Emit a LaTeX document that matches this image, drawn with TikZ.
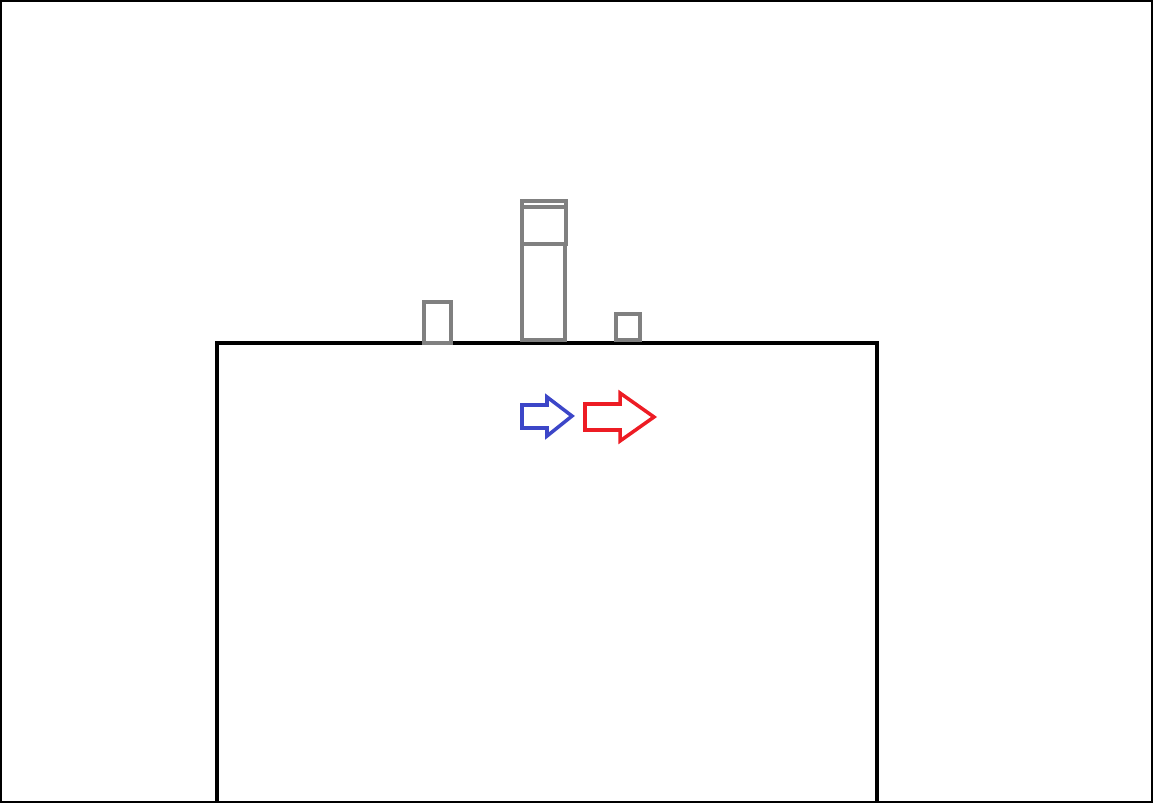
\documentclass[tikz,border=0pt]{standalone}
\usepackage{tikz}
\usetikzlibrary{positioning}
\definecolor{gray1}{RGB}{128, 128, 128}
\definecolor{blue1}{RGB}{60, 70, 200}
\definecolor{red1}{RGB}{237, 28, 36}

\begin{document}
\begin{tikzpicture}[x=0.02cm, y=-0.02cm,
    frame/.style={draw=black, line width=1.1pt},
    wall/.style={draw=black, line width=2.7pt},
    block/.style={draw=gray1, line width=2.5pt},
    arrowblue/.style={draw=blue1, line width=2pt, line join=miter},
    arrowred/.style={draw=red1, line width=2pt, line join=miter}]
  \useasboundingbox (0,0) rectangle (1153,803);
  \draw[frame] (1,1) rectangle (1152,802);

  % building outline, open at the bottom
  \draw[wall] (217,803) -- (217,343) -- (877,343) -- (877,803);

  % objects standing on the roof
  \draw[block] (424,343) rectangle (451,302);
  \draw[block] (522,340) rectangle (565,244);
  \draw[block] (522,244) rectangle (566,201);
  \draw[block] (524,207) -- (564,207);
  \draw[block] (616,340) rectangle (640,314);

  % arrows
  \draw[arrowblue] (522,405) -- (547,405) -- (547,397) -- (572,416) -- (547,436)
    -- (547,428) -- (522,428) -- cycle;
  \draw[arrowred] (585,404) -- (620,404) -- (620,393) -- (654,417) -- (620,441)
    -- (620,430) -- (585,430) -- cycle;
\end{tikzpicture}
\end{document}
